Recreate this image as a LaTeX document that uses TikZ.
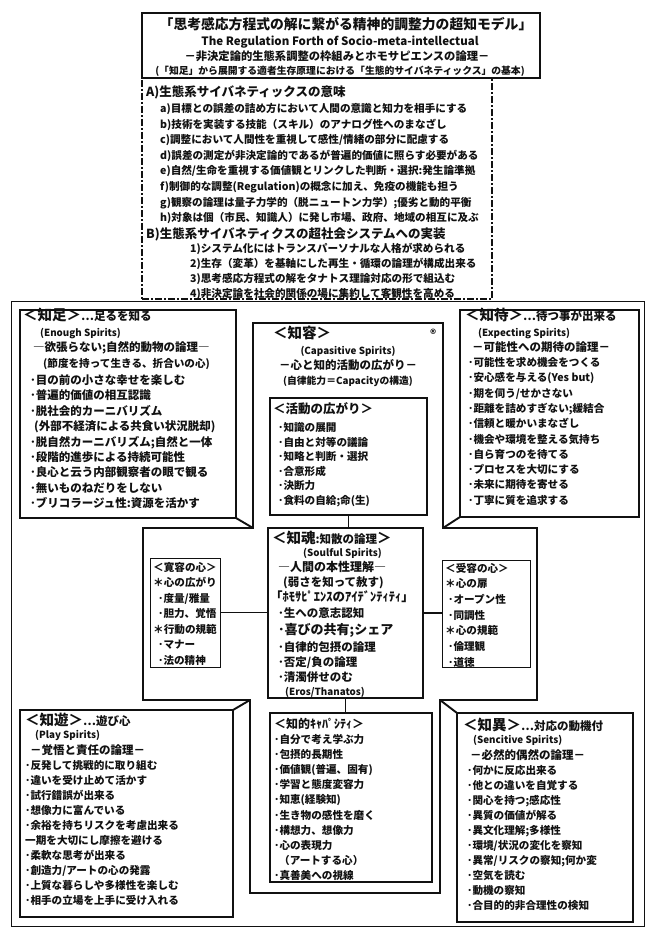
\documentclass[tikz,border=0pt]{standalone}
\usepackage{fontspec}
\setmainfont{Noto Sans CJK JP}
\usetikzlibrary{positioning}
\definecolor{fax}{HTML}{111111}
\newcommand\fsTitle{\fontsize{13.8}{16}\selectfont}
\newcommand\fsHead{\fontsize{14.5}{16}\selectfont}
\newcommand\fsItem{\fontsize{11.5}{13}\selectfont}
\newcommand\fsSec{\fontsize{10.6}{12}\selectfont}
\newcommand\fsSub{\fontsize{9.8}{11}\selectfont}
\begin{document}
\begin{tikzpicture}[x=1pt,y=-1pt,font=\bfseries,fax,line join=miter,
  heavy/.style={draw,line width=1.9pt},
  edge/.style={draw,line width=1.4pt},
  hair/.style={draw,line width=0.8pt},
  panel/.style={inner sep=0pt,outer sep=0pt,anchor=north west},
  row/.style={anchor=base west,inner sep=0pt,font=\bfseries\fsItem},
  mid/.style={anchor=base,inner sep=0pt,font=\bfseries\fsItem}]
 \useasboundingbox (0,0) rectangle (654,947);
 \fill[white] (0,0) rectangle (654,947);

 \node[panel,edge,minimum width=398pt,minimum height=65pt] (ttl) at (142,13) {};
 \node[mid,font=\bfseries\fsTitle] (t1) at (346,30) {「思考感応方程式の解に繋がる精神的調整力の超知モデル」};
 \node[mid,font=\bfseries\fontsize{11.5}{13}\selectfont] (t2) at (340,46) {The Regulation Forth of Socio-meta-intellectual};
 \node[mid,font=\bfseries\fontsize{11.3}{13}\selectfont] (t3) at (337,61) {－非決定論的生態系調整の枠組みとホモサピエンスの論理－};
 \node[mid,font=\bfseries\fsSub] (t4) at (340,74.5) {(「知足」から展開する適者生存原理における「生態的サイバネティックス」の基本)};

 \node[panel,draw,line width=1.5pt,dash pattern=on 7pt off 2pt on 2pt off 2pt,
   minimum width=350pt,minimum height=221pt] (secA) at (142,78) {};
 \node[row,font=\bfseries\fontsize{12.5}{14}\selectfont] (ah) at (146,97) {A)生態系サイバネティックスの意味};
 \foreach \t [count=\i] in {a)目標との誤差の詰め方において人間の意識と知力を相手にする,
   b)技術を実装する技能（スキル）のアナログ性へのまなざし,
   c)調整において人間性を重視して感性/情緒の部分に配慮する,
   d)誤差の測定が非決定論的であるが普遍的価値に照らす必要がある,
   e)自然/生命を重視する価値観とリンクした判断・選択:発生論準拠,
   f)制御的な調整(Regulation)の概念に加え、免疫の機能も担う,
   g)観察の論理は量子力学的（脱ニュートン力学）;優劣と動的平衡,
   h)対象は個（市民、知識人）に発し市場、政府、地域の相互に及ぶ}
   \node[row,font=\bfseries\fsSec] (a-\i) at (160,{112.5+15.6*(\i-1)}) {\t};
 \node[row,font=\bfseries\fontsize{12.5}{14}\selectfont] (bh) at (146,238) {B)生態系サイバネティクスの超社会システムへの実装};
 \foreach \t [count=\i] in {1)システム化にはトランスパーソナルな人格が求められる,
   2)生存（変革）を基軸にした再生・循環の論理が構成出来る,
   3)思考感応方程式の解をタナトス理論対応の形で組込む,
   4)非決定論を社会的関係の場に集約して客観性を高める}
   \node[row,font=\bfseries\fsSec] (b-\i) at (190,{252.5+15*(\i-1)}) {\t};

 \node[panel,hair,minimum width=633pt,minimum height=625pt] (outer) at (11,301) {};

 \coordinate (xa) at (253,323);
 \coordinate (xb) at (443,323);
 \coordinate (xc) at (443,528);
 \coordinate (xd) at (537,528);
 \coordinate (xe) at (537,700);
 \coordinate (xf) at (440,700);
 \coordinate (xg) at (440,893);
 \coordinate (xh) at (250,893);
 \coordinate (xi) at (250,700);
 \coordinate (xj) at (143,700);
 \coordinate (xk) at (143,528);
 \coordinate (xl) at (253,528);
 \draw[edge] (xa)--(xb)--(xc)--(xd)--(xe)--(xf)--(xg)--(xh)--(xi)--(xj)--(xk)--(xl)--cycle;

 \node[panel,heavy,minimum width=216pt,minimum height=208pt] (zs) at (20,310) {};
 \node[panel,heavy,minimum width=179pt,minimum height=207pt] (zt) at (460,310) {};
 \node[panel,heavy,minimum width=213pt,minimum height=207pt] (zy) at (20,710) {};
 \node[panel,heavy,minimum width=176pt,minimum height=209pt] (zi) at (457,713) {};
 \draw[heavy] (zs.south east)--(xl);
 \draw[heavy] (zt.south west)--(xc);
 \draw[heavy] (zy.north east)--(xi);
 \draw[heavy] (zi.north west)--(xf);

 \node[panel,edge,minimum width=157pt,minimum height=117pt] (katsu) at (270,398) {};
 \node[panel,edge,minimum width=155pt,minimum height=170pt] (chikon) at (268,528) {};
 \node[panel,hair,minimum width=70pt,minimum height=109pt] (kanyo) at (150,558) {};
 \node[panel,hair,minimum width=88pt,minimum height=107pt] (juyo) at (442,560) {};
 \node[panel,edge,minimum width=162pt,minimum height=169pt] (cap) at (270,713) {};
 \draw[edge] (katsu.south)--(katsu.south |- chikon.north);
 \draw[edge] (kanyo.east)--(kanyo.east -| chikon.west);
 \draw[edge] (chikon.east)--(chikon.east -| juyo.west);
 \draw[edge] (chikon.south)--(chikon.south |- cap.north);

 \node[row,font=\bfseries\fsHead] (zs-h) at (23,320.5) {＜知足＞{\fsItem …足るを知る}};
 \node[row,font=\bfseries\fsSub] (zs-e) at (40,336) {(Enough Spirits)};
 \node[row] (zs-s) at (33,351.5) {―欲張らない;自然的動物の論理―};
 \node[row,font=\bfseries\fsSec] (zs-m) at (43,367.5) {(節度を持って生きる、折合いの心)};
 \foreach \t [count=\i] in {･目の前の小さな幸せを楽しむ,･普遍的価値の相互認識,･脱社会的カーニバリズム,
   \hspace*{4pt}(外部不経済による共食い状況脱却),･脱自然カーニバリズム;自然と一体,
   ･段階的進歩による持続可能性,･良心と云う内部観察者の眼で観る,･無いものねだりをしない,
   ･ブリコラージュ性:資源を活かす}
   \node[row] (zs-\i) at (30,{384.5+15.4*(\i-1)}) {\t};

 \node[row,font=\bfseries\fsHead] (cy-h) at (273,338) {＜知容＞};
 \node[row] (cy-r) at (430,338) {®};
 \node[mid,font=\bfseries\fsSub] (cy-e) at (348,354) {(Capasitive Spirits)};
 \node[mid] (cy-s) at (348,369.5) {－心と知的活動の広がり－};
 \node[mid,font=\bfseries\fsSub] (cy-c) at (348,384) {(自律能力＝Capacityの構造)};
 \node[row,font=\bfseries\fontsize{12.5}{14}\selectfont] (ka-h) at (273,413) {＜活動の広がり＞};
 \foreach \t [count=\i] in {･知識の展開,･自由と対等の議論,･知略と判断・選択,･合意形成,･決断力,･食料の自給;命(生)}
   \node[row,font=\bfseries\fsSec] (ka-\i) at (278,{431.5+14.5*(\i-1)}) {\t};

 \node[row,font=\bfseries\fsHead] (zt-h) at (465,320.5) {＜知待＞{\fsItem …待つ事が出来る}};
 \node[row,font=\bfseries\fsSub] (zt-e) at (478,336) {(Expecting Spirits)};
 \node[row] (zt-s) at (472,351.5) {－可能性への期待の論理－};
 \foreach \t [count=\i] in {･可能性を求め機会をつくる,･安心感を与える(Yes but),･期を伺う/せかさない,
   ･距離を詰めすぎない;緩結合,･信頼と暖かいまなざし,･機会や環境を整える気持ち,･自ら育つのを待てる,
   ･プロセスを大切にする,･未来に期待を寄せる,･丁寧に質を追求する}
   \node[row,font=\bfseries\fsSec] (zt-\i) at (468,{366.5+15.3*(\i-1)}) {\t};

 \foreach \t [count=\i] in {＜寛容の心＞,＊心の広がり,\hspace*{5pt}･度量/雅量,\hspace*{5pt}･胆力、覚悟,
   ＊行動の規範,\hspace*{5pt}･マナー,\hspace*{5pt}･法の精神}
   \node[row,font=\bfseries\fsSec] (kn-\i) at (153,{571+15.5*(\i-1)}) {\t};

 \foreach \t [count=\i] in {＜受容の心＞,＊心の扉,\hspace*{3pt}･オープン性,\hspace*{3pt}･同調性,
   ＊心の規範,\hspace*{3pt}･倫理観,\hspace*{3pt}･道徳}
   \node[row,font=\bfseries\fsSec] (jy-\i) at (445,{572+15.7*(\i-1)}) {\t};

 \node[row] (ck-h) at (272,543) {{\fsHead ＜知魂}:知散の論理{\fsHead ＞}};
 \node[row,font=\bfseries\fsSub] (ck-e) at (303,556) {(Soulful Spirits)};
 \node[row,font=\bfseries\fontsize{12}{14}\selectfont] (ck-s) at (278,571.5) {―人間の本性理解―};
 \node[row] (ck-m) at (283,586.5) {(弱さを知って赦す)};
 \node[row,font=\bfseries\fontsize{12.5}{14}\selectfont] (ck-i) at (270,601.5) {「ﾎﾓｻﾋﾟｴﾝｽのｱｲﾃﾞﾝﾃｨﾃｨ」};
 \node[row] (ck-1) at (278,617.5) {･生への意志認知};
 \node[row,font=\bfseries\fontsize{13}{15}\selectfont] (ck-2) at (278,634.5) {･喜びの共有;シェア};
 \node[row] (ck-3) at (278,651.5) {･自律的包摂の論理};
 \node[row] (ck-4) at (278,666.5) {･否定/負の論理};
 \node[row] (ck-5) at (278,681.5) {･清濁併せのむ};
 \node[row,font=\bfseries\fsSub] (ck-6) at (285,695.5) {(Eros/Thanatos)};

 \node[row,font=\bfseries\fsHead] (zy-h) at (25,725.5) {＜知遊＞{\fsItem …遊び心}};
 \node[row,font=\bfseries\fsSub] (zy-e) at (35,738.5) {(Play Spirits)};
 \node[row] (zy-s) at (30,754.5) {－覚悟と責任の論理－};
 \foreach \t [count=\i] in {･反発して挑戦的に取り組む,･違いを受け止めて活かす,･試行錯誤が出来る,･想像力に富んでいる,
   ･余裕を持ちリスクを考慮出来る,一期を大切にし摩擦を避ける,･柔軟な思考が出来る,･創造力/アートの心の発露,
   ･上質な暮らしや多様性を楽しむ,･相手の立場を上手に受け入れる}
   \node[row,font=\bfseries\fsSec] (zy-\i) at (25,{769.5+15*(\i-1)}) {\t};

 \node[row,font=\bfseries\fontsize{12}{14}\selectfont] (cp-h) at (274,728) {＜知的ｷｬﾊﾟｼﾃｨ＞};
 \foreach \t [count=\i] in {･自分で考え学ぶ力,･包摂的長期性,･価値観(普遍、固有),･学習と態度変容力,･知恵(経験知),
   ･生き物の感性を磨く,･構想力、想像力,･心の表現力,\hspace*{5pt}（アートする心）,･真善美への視線}
   \node[row,font=\bfseries\fsSec] (cp-\i) at (274,{743.5+15.1*(\i-1)}) {\t};

 \node[row,font=\bfseries\fsHead] (zi-h) at (463,730.5) {＜知異＞{\fsItem …対応の動機付}};
 \node[row,font=\bfseries\fsSub] (zi-e) at (473,743.5) {(Sencitive Spirits)};
 \node[row] (zi-s) at (470,759.5) {－必然的偶然の論理－};
 \foreach \t [count=\i] in {･何かに反応出来る,･他との違いを自覚する,･関心を持つ;感応性,･異質の価値が解る,
   ･異文化理解;多様性,･環境/状況の変化を察知,･異常/リスクの察知;何か変,･空気を読む,･動機の察知,
   ･合目的的非合理性の検知}
   \node[row,font=\bfseries\fsSec] (zi-\i) at (467,{774.5+15*(\i-1)}) {\t};
\end{tikzpicture}
\end{document}
